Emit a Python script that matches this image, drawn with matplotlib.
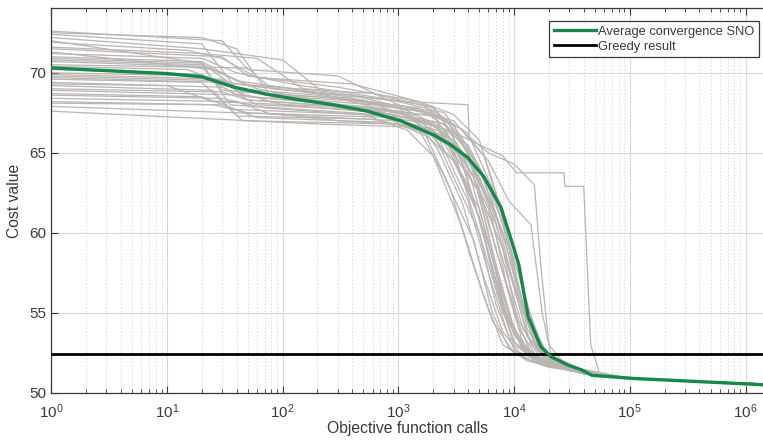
import matplotlib
matplotlib.use("Agg")
import matplotlib.pyplot as plt
from matplotlib.ticker import LogLocator, NullFormatter, FixedLocator

plt.rcParams["font.family"] = ["Liberation Sans", "DejaVu Sans"]

# individual optimisation runs: (objective function calls, cost value)
RUNS = [
    [(1, 72.6), (30, 72.0), (50, 70.2), (300, 69.8), (1000, 68.0), (2500, 67.2), (4000, 65.0), (6000, 60.0), (8000, 55.5), (1.2e4, 52.6), (2e4, 51.7), (5e4, 51.1)],
    [(1, 72.4), (20, 71.8), (40, 69.0), (200, 68.6), (800, 67.9), (2000, 67.5), (3000, 64.8), (5000, 61.0), (7000, 56.5), (1e4, 53.0), (1.6e4, 52.0), (4e4, 51.2)],
    [(1, 72.2), (20, 71.5), (100, 70.8), (250, 68.5), (1500, 67.8), (3500, 66.0), (6000, 63.0), (9000, 58.0), (1.3e4, 53.5), (2e4, 52.0), (4.5e4, 51.2)],
    [(1, 72.0), (20, 70.6), (35, 68.0), (400, 67.5), (1200, 67.2), (2500, 66.5), (4500, 63.5), (7000, 58.0), (1e4, 54.0), (1.5e4, 52.2), (4e4, 51.2)],
    [(1, 71.6), (20, 71.2), (60, 70.9), (150, 69.0), (600, 68.7), (2000, 67.8), (3000, 66.5), (5000, 64.0), (8000, 60.0), (1.2e4, 55.0), (1.8e4, 52.3), (5e4, 51.1)],
    [(1, 71.3), (25, 70.2), (60, 69.0), (300, 68.0), (1000, 67.6), (2200, 66.0), (4000, 62.0), (6000, 57.5), (9000, 53.5), (1.5e4, 52.0), (4e4, 51.2)],
    [(1, 70.9), (20, 70.6), (45, 68.8), (500, 68.3), (1500, 67.0), (3000, 65.5), (4500, 64.0), (7000, 60.5), (1.05e4, 56.0), (1.4e4, 53.0), (2.2e4, 51.8), (5e4, 51.1)],
    [(1, 70.5), (50, 70.3), (80, 69.0), (400, 68.6), (1000, 67.9), (1800, 67.0), (3000, 63.5), (5000, 60.0), (8000, 55.0), (1.2e4, 52.8), (2e4, 51.7), (5e4, 51.1)],
    [(1, 70.2), (20, 69.9), (40, 68.6), (300, 68.0), (2000, 67.3), (3500, 65.0), (6000, 61.5), (9000, 57.0), (1.2e4, 54.0), (1.8e4, 52.2), (4e4, 51.2)],
    [(1, 69.9), (30, 69.6), (50, 68.3), (500, 67.8), (1500, 67.0), (2500, 65.8), (5000, 62.5), (8000, 57.5), (1.1e4, 54.5), (1.7e4, 52.1), (4e4, 51.2)],
    [(1, 69.6), (20, 69.4), (45, 67.0), (1000, 66.8), (1800, 66.0), (3000, 64.5), (5000, 61.0), (7500, 56.0), (1e4, 53.2), (1.6e4, 52.0), (4e4, 51.2)],
    [(1, 69.4), (30, 69.1), (60, 68.0), (800, 67.6), (2500, 66.8), (4000, 64.5), (7000, 61.0), (1.1e4, 57.5), (1.5e4, 54.0), (2.1e4, 52.0), (5e4, 51.1)],
    [(1, 69.2), (25, 68.9), (40, 67.3), (600, 67.1), (1500, 66.5), (2500, 63.5), (4500, 59.5), (6500, 55.0), (9000, 52.8), (1.5e4, 51.9), (4e4, 51.2)],
    [(1, 68.9), (50, 68.6), (100, 68.0), (700, 67.5), (2000, 66.9), (4000, 65.5), (6000, 63.0), (9000, 59.5), (1.3e4, 55.5), (1.8e4, 52.6), (4.5e4, 51.2)],
    [(1, 68.7), (20, 68.5), (40, 67.7), (500, 67.4), (1200, 66.4), (2000, 64.8), (3500, 60.5), (5500, 56.0), (8000, 53.0), (1.3e4, 52.0), (4e4, 51.2)],
    [(1, 68.4), (40, 68.2), (80, 67.4), (1000, 67.0), (2500, 66.3), (5000, 62.5), (8000, 59.0), (1.2e4, 55.0), (1.6e4, 52.8), (2.5e4, 51.6), (5e4, 51.1)],
    [(1, 68.1), (30, 68.0), (60, 67.2), (800, 66.9), (1800, 66.3), (3000, 64.5), (5000, 61.5), (7000, 57.5), (1e4, 53.8), (1.5e4, 52.1), (4e4, 51.2)],
    [(1, 67.6), (200, 66.8), (1500, 66.6), (2500, 65.6), (4000, 63.0), (6500, 58.5), (9500, 54.5), (1.3e4, 52.4), (2e4, 51.7), (5e4, 51.1)],
    [(1, 71.0), (20, 70.7), (40, 69.5), (300, 68.6), (1000, 67.8), (1500, 67.0), (3000, 66.3), (5000, 65.5), (8000, 64.8), (1.05e4, 63.75), (2.7e4, 63.75), (2.75e4, 62.9), (4e4, 62.9), (4.6e4, 53.0), (5.5e4, 51.2)],
    [(1, 70.8), (20, 70.5), (50, 69.2), (300, 68.6), (1200, 68.2), (4000, 68.0), (4100, 66.0), (6000, 65.0), (1e4, 64.3), (1.5e4, 63.0), (1.7e4, 58.0), (2e4, 53.0), (3e4, 51.5), (6e4, 51.1)],
    [(1, 69.8), (30, 69.5), (50, 68.5), (500, 67.9), (2000, 67.3), (3500, 66.5), (6000, 64.5), (9000, 62.0), (1.4e4, 60.5), (1.75e4, 55.0), (2.1e4, 52.3), (4e4, 51.2)],
    [(1, 72.5), (20, 72.2), (40, 71.5), (80, 68.5), (600, 68.0), (1500, 67.6), (3000, 66.8), (4500, 64.0), (7000, 59.0), (1e4, 55.0), (1.4e4, 52.5), (3e4, 51.4)],
    [(1, 71.9), (15, 71.4), (30, 70.9), (60, 69.7), (400, 69.3), (1500, 68.2), (2500, 66.9), (4000, 65.0), (6000, 62.0), (8500, 57.0), (1.2e4, 53.0), (2e4, 51.8)],
    [(1, 70.7), (20, 70.4), (30, 68.9), (300, 68.4), (1000, 67.5), (2000, 66.8), (3000, 65.2), (5000, 60.0), (7000, 55.5), (1e4, 52.7), (1.7e4, 51.9)],
    [(1, 69.0), (30, 68.8), (50, 68.3), (500, 67.8), (1500, 67.3), (2500, 66.2), (4000, 64.0), (6000, 59.5), (8500, 55.0), (1.2e4, 52.7), (2e4, 51.7)],
    [(1, 67.9), (100, 67.4), (300, 67.0), (1500, 66.7), (3000, 65.8), (5000, 63.5), (7500, 60.5), (1.1e4, 56.5), (1.5e4, 53.0), (2.5e4, 51.6)],
    [(1, 70.0), (20, 69.8), (40, 69.3), (200, 68.9), (1000, 68.2), (2500, 67.5), (3500, 66.0), (5500, 63.5), (8000, 59.0), (1.1e4, 54.0), (1.6e4, 52.2), (3e4, 51.4)],
    [(1, 71.5), (30, 71.0), (50, 69.8), (300, 69.1), (1500, 68.2), (3000, 67.4), (5000, 65.8), (7000, 62.5), (1e4, 58.0), (1.3e4, 54.0), (1.8e4, 52.2), (4e4, 51.2)],
    [(1, 69.3), (10, 69.2), (25, 68.2), (250, 67.9), (900, 67.4), (2200, 66.6), (3800, 63.8), (6000, 58.8), (8500, 54.8), (1.25e4, 52.6), (2.2e4, 51.7)],
    [(1, 68.6), (30, 68.4), (70, 67.8), (700, 67.3), (1700, 66.2), (2800, 62.8), (4200, 58.5), (6500, 54.5), (1e4, 52.5), (1.8e4, 51.7)],
    [(1, 70.4), (15, 70.2), (30, 69.4), (150, 68.8), (700, 68.1), (2000, 67.6), (4000, 66.2), (6500, 62.8), (9500, 58.5), (1.3e4, 54.6), (1.9e4, 52.4), (3.5e4, 51.4)],
    [(1, 71.2), (20, 70.9), (40, 70.0), (120, 69.3), (600, 68.5), (2000, 67.9), (3000, 66.0), (4500, 62.0), (7000, 57.0), (1e4, 53.6), (1.6e4, 52.0)],
    [(1, 69.7), (30, 69.4), (70, 68.6), (500, 68.2), (1300, 67.7), (3000, 67.0), (5500, 64.8), (8000, 61.0), (1.1e4, 56.0), (1.5e4, 53.2), (2.3e4, 51.8)],
    [(1, 68.2), (25, 68.0), (50, 67.5), (900, 67.2), (1500, 66.9), (2200, 65.2), (3600, 61.8), (5500, 57.2), (8000, 53.8), (1.2e4, 52.2), (2e4, 51.6)],
]
# common tail all runs settle into
TAIL = [(1.0e5, 50.9), (3e5, 50.75), (1.5e6, 50.55)]

AVG_CALLS = [1, 10, 20, 38, 74, 143, 276, 540, 1050, 2040, 2830, 3990, 5490, 7700,
             1.0e4, 1.1e4, 1.32e4, 1.7e4, 2.1e4, 2.9e4, 3.8e4, 4.7e4, 1.1e5, 8e5, 1.5e6]
AVG_COST = [70.3, 69.95, 69.75, 69.1, 68.65, 68.3, 68.0, 67.6, 67.0, 66.1, 65.5, 64.7, 63.5, 61.6,
            59.0, 58.0, 54.8, 52.9, 52.25, 51.75, 51.45, 51.1, 50.9, 50.6, 50.5]
GREEDY = 52.42

X_TICKS = [1e0, 1e1, 1e2, 1e3, 1e4, 1e5, 1e6]
Y_TICKS = [50, 55, 60, 65, 70]

fig = plt.figure(figsize=(7.63, 4.40), dpi=100)
ax = fig.add_axes([0.067, 0.107, 0.935, 0.875])

for run in RUNS:
    pts = run + [p for p in TAIL if p[0] > run[-1][0]]
    xs = [p[0] for p in pts]
    ys = [p[1] for p in pts]
    ax.plot(xs, ys, color="#b9b5b3", lw=0.9, zorder=2)

ax.plot(AVG_CALLS, AVG_COST, color="#15884a", lw=2.4, zorder=4, label="Average convergence SNO")
ax.axhline(GREEDY, color="black", lw=2.0, zorder=3, label="Greedy result")

ax.set_xscale("log")
ax.set_xlim(1, 1.46e6)
ax.set_ylim(50, 74.05)
ax.yaxis.set_major_locator(FixedLocator(Y_TICKS))
ax.xaxis.set_major_locator(FixedLocator(X_TICKS))
ax.xaxis.set_minor_locator(LogLocator(base=10, subs=range(2, 10), numticks=20))
ax.xaxis.set_minor_formatter(NullFormatter())

ax.grid(True, which="major", color="#ddd8d4", lw=0.8, zorder=0)
ax.grid(True, which="minor", axis="x", color="#cfcac6", lw=0.7, ls=(0, (1, 2.5)), zorder=0)
ax.set_axisbelow(True)

ax.tick_params(which="both", direction="in", top=True, right=False, colors="#3a3a3a",
               labelcolor="#3a3a3a", labelsize=11)
ax.tick_params(axis="x", which="major", pad=7)
ax.tick_params(which="major", length=5)
ax.tick_params(which="minor", length=3)
for s in ("left", "bottom", "top"):
    ax.spines[s].set_color("#3a3a3a")
    ax.spines[s].set_linewidth(0.9)
ax.spines["right"].set_visible(False)

ax.set_xlabel("Objective function calls", fontsize=11.3, color="#3a3a3a", labelpad=0)
ax.set_ylabel("Cost value", fontsize=11.3, color="#3a3a3a", labelpad=5)

leg = ax.legend(loc="upper right", bbox_to_anchor=(0.9916, 0.966), fontsize=9.3, frameon=True,
                fancybox=False, framealpha=1, edgecolor="#3a3a3a", handlelength=3.3,
                borderpad=0.35, labelspacing=0.25, handletextpad=0.1, borderaxespad=0)
leg.get_frame().set_linewidth(0.9)
for t in leg.get_texts():
    t.set_color("#3a3a3a")

fig.savefig("out.png", dpi=100)
